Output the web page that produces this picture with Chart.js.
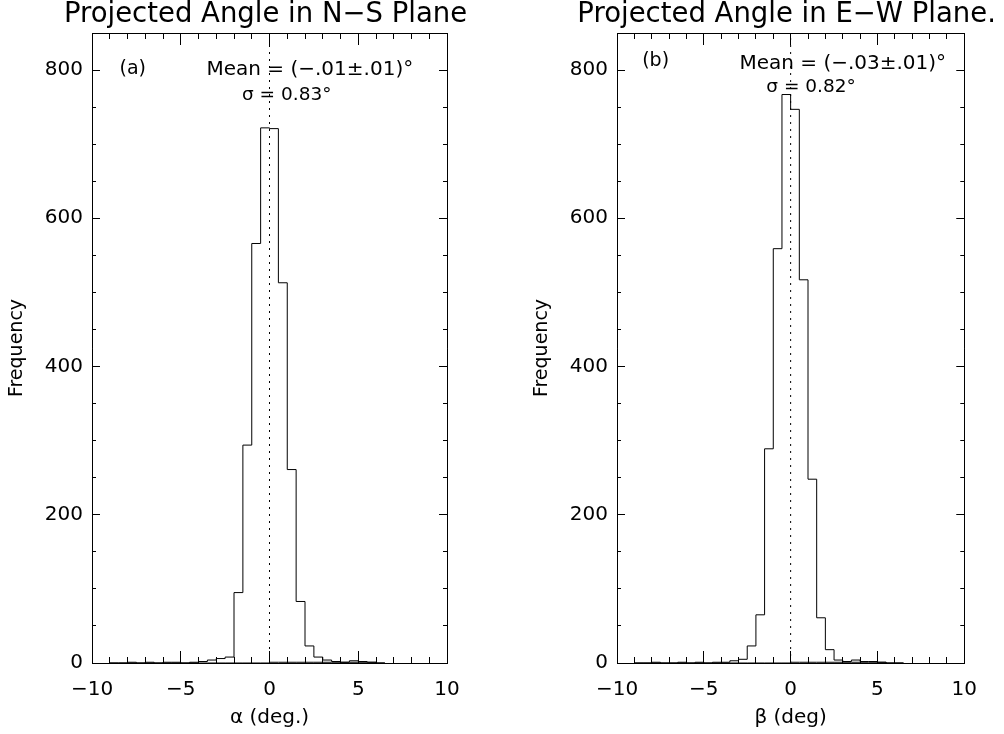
<!DOCTYPE html>
<html><head><meta charset="utf-8">
<script src="https://cdn.jsdelivr.net/npm/chart.js@4"></script>
<style>
html,body{margin:0;padding:0;background:#fff;}
#wrap{position:relative;width:1004px;height:734px;overflow:hidden;}
canvas{position:absolute;top:0;}
</style></head>
<body><div id="wrap">
<canvas id="c1" width="502" height="734" style="left:0px"></canvas>
<canvas id="c2" width="502" height="734" style="left:502px"></canvas>
</div>
<script>
// ---- data (bin left edges, width 0.5 deg; last edge closes the histogram) ----
const binEdges = [-9,-8.5,-8,-7.5,-7,-6.5,-6,-5.5,-5,-4.5,-4,-3.5,-3,-2.5,-2,-1.5,-1,-0.5,0,0.5,1,1.5,2,2.5,3,3.5,4,4.5,5,5.5,6,6.5];
const alphaCounts = [0,0,1,0,1,0,1,1,0,1,2,4,6,8,95,294,566,722,721,513,261,83,23,8,4,2,1,3,2,1,0,0];
const betaCounts  = [0,0,1,0,0,1,0,1,0,1,1,3,5,23,65,289,559,767,747,517,248,61,18,4,2,4,2,2,1,0,0,0];
const alphaLow    = [0,0,0,0,0,0,0,0,0,0,0,0,0,0,0,0,0,0,1,1,1,1,1,1,1,1,1,1,1,1,0,0];
const betaLow     = [0,0,0,0,0,0,0,0,0,0,0,0,0,0,0,0,0,0,1,1,1,1,1,1,1,1,1,1,1,0,0,0];
const xRange = [-10, 10];
const yRange = [0, 850];
const xMajorStep = 5, xMinorStep = 1, yMajorStep = 200, yMinorStep = 50;
const titles = ['Projected Angle in N\u2212S Plane', 'Projected Angle in E\u2212W Plane.'];
const xTitles = ['\u03b1 (deg.)', '\u03b2 (deg)'];
const yTitle = 'Frequency';
const notesA = [
  {text:'(a)', x:-8.45, y:801, size:19},
  {text:'Mean = (\u2212.01\u00b1.01)\u00b0', x:-3.55, y:800, size:20},
  {text:'\u03c3 = 0.83\u00b0', x:-1.55, y:766, size:18.5}
];
const notesB = [
  {text:'(b)', x:-8.55, y:812, size:19},
  {text:'Mean = (\u2212.03\u00b1.01)\u00b0', x:-2.95, y:809, size:20},
  {text:'\u03c3 = 0.82\u00b0', x:-1.4, y:777, size:18.5}
];

const FONT = "'DejaVu Sans', sans-serif";

const textPlugin = {
  id: 'notes',
  afterDatasetsDraw(chart, args, opts){
    const ctx = chart.ctx, xs = chart.scales.x, ys = chart.scales.y;
    ctx.save();
    ctx.fillStyle = '#000';
    ctx.textBaseline = 'middle';
    ctx.textAlign = 'left';
    (opts.items || []).forEach(it => {
      ctx.font = it.size + 'px ' + FONT;
      ctx.fillText(it.text, xs.getPixelForValue(it.x), ys.getPixelForValue(it.y));
    });
    // panel title, centred over the plot area
    ctx.font = '27.5px ' + FONT;
    ctx.textAlign = 'center';
    const ca = chart.chartArea;
    ctx.fillText(opts.title, (ca.left + ca.right) / 2 - 4, 15);
    ctx.restore();
  }
};

function fmtX(v){ return v < 0 ? '\u2212' + Math.abs(v) : String(v); }

function axisCommon(pos, step, min, max, tl, showLabels){
  return {
    type: 'linear', position: pos, min: min, max: max,
    border: {display: true, color: '#000', width: 1},
    grid: {drawOnChartArea: false, drawTicks: true, tickLength: tl, tickColor: '#000', tickWidth: 1, color: '#000'},
    ticks: {display: showLabels, stepSize: step, includeBounds: false, autoSkip: false, maxRotation: 0, color: '#000'}
  };
}

function makeChart(id, counts, low, idx, notes, padL, padR){
  const xm = axisCommon('bottom', xMajorStep, xRange[0], xRange[1], -12, true);
  xm.weight = 2;
  xm.ticks.font = {family: FONT, size: 20};
  xm.ticks.padding = 27;
  xm.ticks.callback = (v) => fmtX(v);
  xm.title = {display: true, text: xTitles[idx], color: '#000', font: {family: FONT, size: 20}, padding: {top: 0, bottom: 4}};
  xm.afterFit = (s) => { s.height = 71; };

  const xmin = axisCommon('bottom', xMinorStep, xRange[0], xRange[1], -6, false);
  xmin.weight = 1; xmin.afterFit = (s) => { s.height = 0; };
  const xt = axisCommon('top', xMajorStep, xRange[0], xRange[1], -12, false);
  xt.weight = 2; xt.afterFit = (s) => { s.height = 0; };
  const xtm = axisCommon('top', xMinorStep, xRange[0], xRange[1], -6, false);
  xtm.weight = 1; xtm.afterFit = (s) => { s.height = 0; };

  const ym = axisCommon('left', yMajorStep, yRange[0], yRange[1], -8, true);
  ym.weight = 2;
  ym.ticks.font = {family: FONT, size: 20};
  ym.ticks.padding = 17;
  ym.title = {display: true, text: yTitle, color: '#000', font: {family: FONT, size: 19}, padding: {top: 6, bottom: 0}};
  ym.afterFit = (s) => { s.width = 92; };
  const ymin = axisCommon('left', yMinorStep, yRange[0], yRange[1], -4, false);
  ymin.weight = 1; ymin.afterFit = (s) => { s.width = 0; };
  const yr = axisCommon('right', yMajorStep, yRange[0], yRange[1], -8, false);
  yr.weight = 2; yr.afterFit = (s) => { s.width = 0; };
  const yrm = axisCommon('right', yMinorStep, yRange[0], yRange[1], -4, false);
  yrm.weight = 1; yrm.afterFit = (s) => { s.width = 0; };

  return new Chart(document.getElementById(id), {
    type: 'line',
    data: {
      datasets: [
        {data: binEdges.map((e, i) => ({x: e, y: counts[i]})), stepped: 'before', borderColor: '#000', borderWidth: 1, pointRadius: 0, fill: false, xAxisID: 'x', yAxisID: 'y'},
        {data: binEdges.map((e, i) => ({x: e, y: low[i]})), stepped: 'before', borderColor: '#000', borderWidth: 1, pointRadius: 0, fill: false, xAxisID: 'x', yAxisID: 'y'},
        {data: [{x: 0, y: yRange[0]}, {x: 0, y: yRange[1]}], borderColor: '#000', borderWidth: 1, borderDash: [2, 5], pointRadius: 0, fill: false, xAxisID: 'x', yAxisID: 'y'}
      ]
    },
    options: {
      responsive: false, animation: false, devicePixelRatio: 1,
      layout: {padding: {left: padL, right: padR, top: 33, bottom: 0}},
      plugins: {
        legend: {display: false}, tooltip: {enabled: false}, title: {display: false},
        notes: {items: notes, title: titles[idx]}
      },
      scales: {x: xm, xmin: xmin, xt: xt, xtm: xtm, y: ym, ymin: ymin, yr: yr, yrm: yrm}
    },
    plugins: [textPlugin]
  });
}

makeChart('c1', alphaCounts, alphaLow, 0, notesA, 0, 55);
makeChart('c2', betaCounts, betaLow, 1, notesB, 23, 32);
</script>
</body></html>
